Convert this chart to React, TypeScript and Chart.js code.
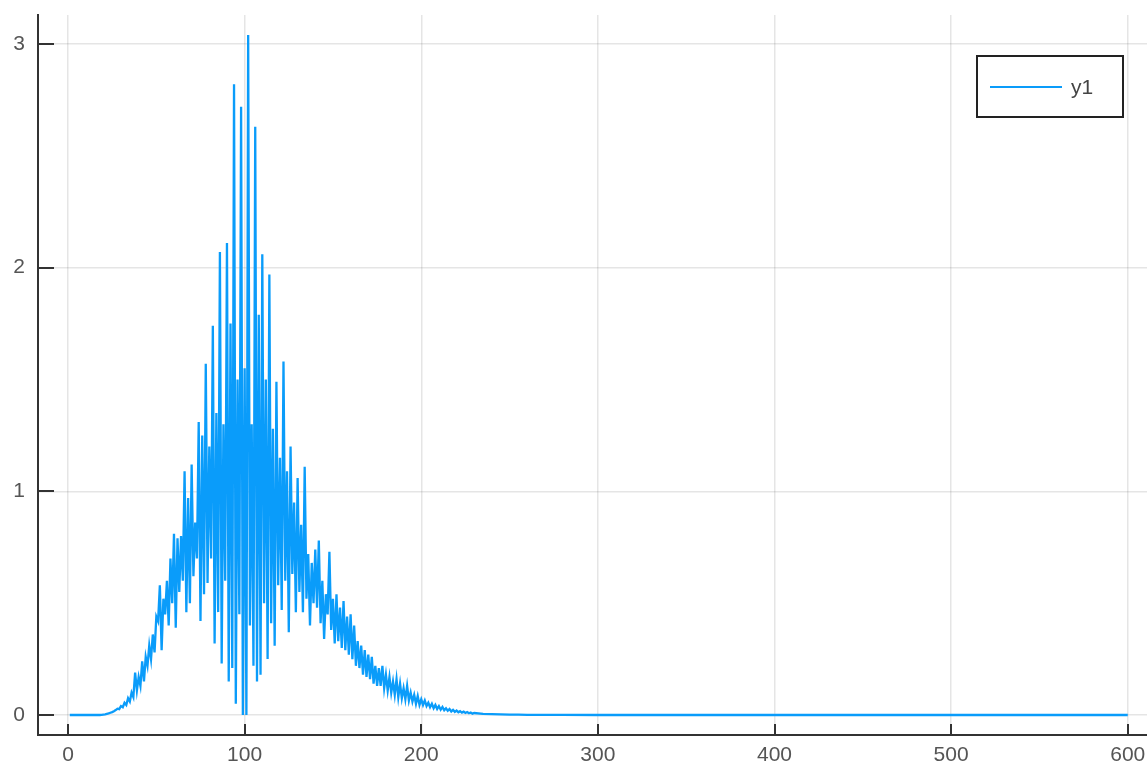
import React, { useEffect, useRef } from "react";
import { Chart, registerables } from "chart.js";

Chart.register(...registerables);

// x = 1 .. 50
const riseValues = [
  0, 0, 0, 0, 0, 0, 0, 0, 0, 0, 0, 0, 0, 0, 0, 0, 0, 0,
  0.001, 0.002, 0.003, 0.005, 0.007, 0.01, 0.013, 0.017, 0.022, 0.028, 0.026, 0.04,
  0.035, 0.055, 0.045, 0.075, 0.06, 0.1, 0.08, 0.19, 0.11, 0.17,
  0.13, 0.24, 0.15, 0.26, 0.22, 0.31, 0.25, 0.36, 0.28, 0.44,
];

// x = 51 .. 150
const peakValues = [
  0.42, 0.58, 0.29, 0.52, 0.45, 0.6, 0.4, 0.7, 0.5, 0.81,
  0.39, 0.79, 0.55, 0.8, 0.6, 1.09, 0.46, 0.97, 0.5, 1.12,
  0.62, 0.86, 0.7, 1.31, 0.42, 1.25, 0.54, 1.57, 0.59, 1.2,
  0.7, 1.74, 0.32, 1.35, 0.46, 2.07, 0.23, 1.3, 0.6, 2.11,
  0.15, 1.75, 0.21, 2.82, 0.05, 1.5, 0.45, 2.72, 0.0, 1.55,
  0.0, 3.04, 0.4, 1.3, 0.22, 2.63, 0.15, 1.79, 0.18, 2.06,
  0.5, 1.5, 0.25, 1.97, 0.41, 1.28, 0.31, 1.49, 0.58, 1.15,
  0.47, 1.58, 0.6, 1.09, 0.37, 1.2, 0.63, 0.95, 0.46, 1.06,
  0.55, 0.85, 0.46, 1.11, 0.52, 0.72, 0.4, 0.68, 0.5, 0.74,
  0.48, 0.78, 0.41, 0.6, 0.34, 0.54, 0.45, 0.73, 0.38, 0.52,
];

// x = 151 .. 230
const decayValues = [
  0.32, 0.54, 0.33, 0.48, 0.3, 0.51, 0.29, 0.44, 0.27, 0.45,
  0.25, 0.4, 0.22, 0.33, 0.21, 0.31, 0.18, 0.29, 0.17, 0.27,
  0.16, 0.26, 0.14, 0.22, 0.13, 0.21, 0.13, 0.22, 0.12, 0.18,
  0.11, 0.17, 0.1, 0.15, 0.09, 0.16, 0.08, 0.14, 0.075, 0.12,
  0.07, 0.13, 0.065, 0.1, 0.06, 0.09, 0.05, 0.085, 0.045, 0.07,
  0.045, 0.065, 0.04, 0.055, 0.035, 0.05, 0.03, 0.045, 0.027, 0.04,
  0.024, 0.036, 0.021, 0.03, 0.019, 0.027, 0.016, 0.023, 0.014, 0.02,
  0.012, 0.017, 0.011, 0.015, 0.009, 0.013, 0.008, 0.011, 0.006, 0.009,
];

const tailX = [235, 240, 245, 250, 255, 260, 270, 280, 300, 400, 500, 600];
const tailY = [0.005, 0.004, 0.003, 0.002, 0.0015, 0.001, 0.0005, 0.0002, 0, 0, 0, 0];

const xTicks = [0, 100, 200, 300, 400, 500, 600];
const yTicks = [0, 1, 2, 3];
const seriesLabel = "y1";

const BLUE = "#0A9CFA";
const AXIS = "#333333";
const TEXT = "#555555";
const FONT = "'Liberation Sans', Arial, sans-serif";

const overlayPlugin = {
  id: "juliaOverlay",
  afterDraw(chart: any) {
    const { ctx, chartArea, scales } = chart;
    ctx.save();
    // inward tick marks
    ctx.strokeStyle = AXIS;
    ctx.lineWidth = 2;
    ctx.beginPath();
    for (const v of yTicks) {
      const y = Math.round(scales.y.getPixelForValue(v));
      ctx.moveTo(chartArea.left, y);
      ctx.lineTo(chartArea.left + 16, y);
    }
    for (const v of xTicks) {
      const x = Math.round(scales.x.getPixelForValue(v));
      ctx.moveTo(x, chartArea.bottom);
      ctx.lineTo(x, chartArea.bottom - 11);
    }
    ctx.stroke();

    // legend
    const bx = 977, by = 56, bw = 146, bh = 61;
    ctx.fillStyle = "#ffffff";
    ctx.fillRect(bx, by, bw, bh);
    ctx.strokeStyle = "#222222";
    ctx.lineWidth = 2;
    ctx.strokeRect(bx, by, bw, bh);
    ctx.strokeStyle = BLUE;
    ctx.lineWidth = 2;
    ctx.beginPath();
    ctx.moveTo(990, 87);
    ctx.lineTo(1062, 87);
    ctx.stroke();
    ctx.fillStyle = "#444444";
    ctx.font = `21px ${FONT}`;
    ctx.textBaseline = "middle";
    ctx.textAlign = "left";
    ctx.fillText(seriesLabel, 1071, 88);
    ctx.restore();
  },
};

export default function App() {
  const canvasRef = useRef<HTMLCanvasElement | null>(null);

  useEffect(() => {
    const points: { x: number; y: number }[] = [];
    riseValues.forEach((v, i) => points.push({ x: 1 + i, y: v }));
    peakValues.forEach((v, i) => points.push({ x: 51 + i, y: v }));
    decayValues.forEach((v, i) => points.push({ x: 151 + i, y: v }));
    tailX.forEach((x, i) => points.push({ x, y: tailY[i] }));

    const chart = new Chart(canvasRef.current as HTMLCanvasElement, {
      type: "line",
      data: {
        datasets: [
          {
            label: seriesLabel,
            data: points,
            borderColor: BLUE,
            borderWidth: 2.3,
            pointRadius: 0,
            tension: 0,
            fill: false,
          },
        ],
      },
      options: {
        animation: false,
        responsive: false,
        layout: { padding: { top: 15, left: 0, right: 0, bottom: 0 } },
        plugins: { legend: { display: false }, tooltip: { enabled: false } },
        scales: {
          x: {
            type: "linear",
            min: -16.99,
            max: 610.9,
            afterBuildTicks: (s: any) => {
              s.ticks = xTicks.map((value) => ({ value }));
            },
            afterFit: (s: any) => {
              s.height = 27;
              s.paddingLeft = 0;
              s.paddingRight = 0;
            },
            grid: { color: "rgba(0,0,0,0.1)", lineWidth: 1.5, drawTicks: false },
            border: { display: true, color: AXIS, width: 2 },
            ticks: {
              color: TEXT,
              font: { family: FONT, size: 21 },
              padding: 8,
              maxRotation: 0,
              autoSkip: false,
            },
          },
          y: {
            type: "linear",
            min: -0.0894,
            max: 3.1297,
            afterBuildTicks: (s: any) => {
              s.ticks = yTicks.map((value) => ({ value }));
            },
            afterFit: (s: any) => {
              s.width = 38;
              s.paddingTop = 0;
              s.paddingBottom = 0;
            },
            grid: { color: "rgba(0,0,0,0.1)", lineWidth: 1.5, drawTicks: false },
            border: { display: true, color: AXIS, width: 2 },
            ticks: {
              color: TEXT,
              font: { family: FONT, size: 21 },
              padding: 13,
            },
          },
        },
      },
      plugins: [overlayPlugin],
    });
    return () => chart.destroy();
  }, []);

  return (
    <div style={{ position: "fixed", left: 0, top: 0, width: 1147, height: 762, background: "#fff" }}>
      <canvas ref={canvasRef} width={1147} height={762} />
    </div>
  );
}
